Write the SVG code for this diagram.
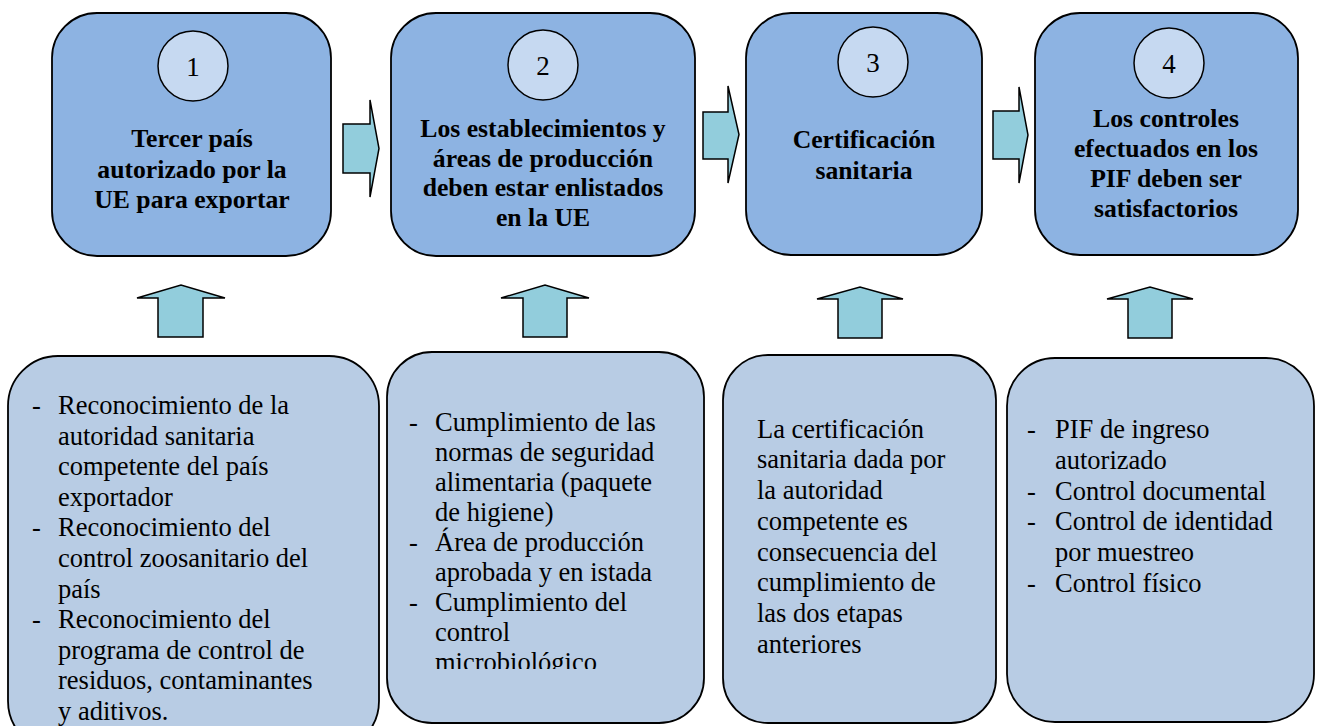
<svg xmlns="http://www.w3.org/2000/svg" width="1317" height="726" viewBox="0 0 1317 726">
<defs>
<style>
.top{fill:#8DB3E2;stroke:#000;stroke-width:1.8}
.bot{fill:#B8CCE4;stroke:#000;stroke-width:1.8}
.circ{fill:#C6D9F1;stroke:#000;stroke-width:1.5}
.arr{fill:#92CDDC;stroke:#000;stroke-width:1.5;stroke-linejoin:miter}
.num{font-family:"Liberation Serif","Times New Roman",serif;font-size:27px;fill:#000;text-anchor:middle}
.hd{font-family:"Liberation Serif","Times New Roman",serif;font-size:25.7px;font-weight:bold;fill:#000;text-anchor:middle}
.bt{font-family:"Liberation Serif","Times New Roman",serif;font-size:26.5px;fill:#000}
</style>
<clipPath id="clipB2"><rect x="387" y="352" width="317" height="317"/></clipPath>
</defs>
<rect width="1317" height="726" fill="#fff"/>

<g id="connectors">
<polygon class="arr" points="343,124 370,124 370,100 379,148.5 370,197 370,173 343,173"/>
<polygon class="arr" points="703,112 728,112 728,86 739,134.5 728,183 728,159 703,159"/>
<polygon class="arr" points="993,111 1019,111 1019,87 1028,135 1019,183 1019,159 993,159"/>
<polygon class="arr" points="158,337 158,298 137,298 181,285 225,298 203,298 203,337"/>
<polygon class="arr" points="523,337 523,298 501,298 545,285 589,298 567,298 567,337"/>
<polygon class="arr" points="838,338 838,299 817,299 860,287 903,299 882,299 882,338"/>
<polygon class="arr" points="1128,338 1128,299 1107,299 1150,287 1193,299 1172,299 1172,338"/>
</g>

<g id="step1">
<rect class="top" x="52" y="13" width="279" height="243" rx="45"/>
<circle class="circ" cx="193" cy="66" r="35"/>
<text class="num" x="193" y="75.5">1</text>
<text class="hd" x="192" y="147">Tercer país</text>
<text class="hd" x="192" y="177.5">autorizado por la</text>
<text class="hd" x="192" y="208">UE para exportar</text>
</g>

<g id="step2">
<rect class="top" x="391" y="13" width="304" height="243" rx="45"/>
<circle class="circ" cx="543" cy="65" r="35"/>
<text class="num" x="543" y="74.5">2</text>
<text class="hd" x="543" y="137">Los establecimientos y</text>
<text class="hd" x="543" y="166.7">áreas de producción</text>
<text class="hd" x="543" y="196.3">deben estar enlistados</text>
<text class="hd" x="543" y="226">en la UE</text>
</g>

<g id="step3">
<rect class="top" x="746" y="13" width="236" height="242" rx="45"/>
<circle class="circ" cx="873" cy="62" r="35"/>
<text class="num" x="873" y="71.5">3</text>
<text class="hd" x="864" y="147.5">Certificación</text>
<text class="hd" x="864" y="178.5">sanitaria</text>
</g>

<g id="step4">
<rect class="top" x="1035" y="13" width="263" height="242" rx="45"/>
<circle class="circ" cx="1169" cy="63" r="35"/>
<text class="num" x="1169" y="72.5">4</text>
<text class="hd" x="1166" y="126.7">Los controles</text>
<text class="hd" x="1166" y="156.7">efectuados en los</text>
<text class="hd" x="1166" y="186.7">PIF deben ser</text>
<text class="hd" x="1166" y="216.7">satisfactorios</text>
</g>

<g id="req1">
<rect class="bot" x="8" y="356" width="371" height="395" rx="50"/>
<text class="bt" x="32" y="414">-</text>
<text class="bt" x="58" y="414">Reconocimiento de la</text>
<text class="bt" x="58" y="444.6">autoridad sanitaria</text>
<text class="bt" x="58" y="475.2">competente del país</text>
<text class="bt" x="58" y="505.8">exportador</text>
<text class="bt" x="32" y="536.4">-</text>
<text class="bt" x="58" y="536.4">Reconocimiento del</text>
<text class="bt" x="58" y="567">control zoosanitario del</text>
<text class="bt" x="58" y="597.6">país</text>
<text class="bt" x="32" y="628.2">-</text>
<text class="bt" x="58" y="628.2">Reconocimiento del</text>
<text class="bt" x="58" y="658.8">programa de control de</text>
<text class="bt" x="58" y="689.4">residuos, contaminantes</text>
<text class="bt" x="58" y="720">y aditivos.</text>
</g>

<g id="req2">
<rect class="bot" x="387" y="352" width="317" height="371" rx="45"/>
<g clip-path="url(#clipB2)">
<text class="bt" x="409" y="431">-</text>
<text class="bt" x="435" y="431">Cumplimiento de las</text>
<text class="bt" x="435" y="461">normas de seguridad</text>
<text class="bt" x="435" y="491">alimentaria (paquete</text>
<text class="bt" x="435" y="521">de higiene)</text>
<text class="bt" x="409" y="551">-</text>
<text class="bt" x="435" y="551">Área de producción</text>
<text class="bt" x="435" y="581">aprobada y en istada</text>
<text class="bt" x="409" y="611">-</text>
<text class="bt" x="435" y="611">Cumplimiento del</text>
<text class="bt" x="435" y="641">control</text>
<text class="bt" x="435" y="671">microbiológico</text>
</g>
</g>

<g id="req3">
<rect class="bot" x="723" y="355" width="273" height="368" rx="45"/>
<text class="bt" x="757" y="437.7">La certificación</text>
<text class="bt" x="757" y="468.4">sanitaria dada por</text>
<text class="bt" x="757" y="499.1">la autoridad</text>
<text class="bt" x="757" y="529.8">competente es</text>
<text class="bt" x="757" y="560.5">consecuencia del</text>
<text class="bt" x="757" y="591.2">cumplimiento de</text>
<text class="bt" x="757" y="621.9">las dos etapas</text>
<text class="bt" x="757" y="652.6">anteriores</text>
</g>

<g id="req4">
<rect class="bot" x="1007" y="358" width="307" height="364" rx="48"/>
<text class="bt" x="1027" y="438">-</text>
<text class="bt" x="1055" y="438">PIF de ingreso</text>
<text class="bt" x="1055" y="468.8">autorizado</text>
<text class="bt" x="1027" y="499.6">-</text>
<text class="bt" x="1055" y="499.6">Control documental</text>
<text class="bt" x="1027" y="530.4">-</text>
<text class="bt" x="1055" y="530.4">Control de identidad</text>
<text class="bt" x="1055" y="561.2">por muestreo</text>
<text class="bt" x="1027" y="592">-</text>
<text class="bt" x="1055" y="592">Control físico</text>
</g>
</svg>
